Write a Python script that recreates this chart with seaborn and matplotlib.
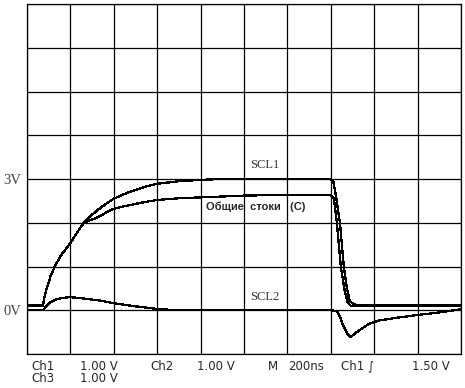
import matplotlib
matplotlib.use("Agg")
import pandas as pd
import matplotlib.pyplot as plt
import seaborn as sns

# oscilloscope traces: time in divisions (200 ns/div), voltage in volts (1 V/div)
t_scl1 = [0, 0.37, 0.40, 0.46, 0.55, 0.65, 0.8, 0.99, 1.15, 1.31, 1.45, 1.6, 1.8,
          2.0, 2.25, 2.5, 2.75, 3.0, 3.5, 4.0, 4.5, 5.0, 6.0, 7.0, 7.06, 7.12,
          7.21, 7.30, 7.37, 7.44, 7.56, 8.0, 9.0, 9.98]
v_scl1 = [0.11, 0.11, 0.3, 0.52, 0.8, 1.02, 1.28, 1.52, 1.77, 2.0, 2.14, 2.27, 2.42,
          2.55, 2.66, 2.75, 2.83, 2.89, 2.95, 2.98, 3.0, 3.0, 3.0, 3.0, 2.93, 2.6,
          2.0, 1.0, 0.5, 0.2, 0.125, 0.125, 0.125, 0.125]

t_drain = [0, 0.37, 0.40, 0.46, 0.55, 0.65, 0.8, 0.99, 1.15, 1.31, 1.45, 1.6, 1.8,
           2.0, 2.25, 2.5, 2.75, 3.0, 3.5, 4.0, 5.0, 6.0, 7.0, 7.07, 7.14, 7.23,
           7.32, 7.39, 7.46, 7.58, 8.0, 9.0, 9.98]
v_drain = [0.11, 0.11, 0.3, 0.52, 0.8, 1.02, 1.28, 1.52, 1.77, 2.0, 2.06, 2.11, 2.22,
           2.32, 2.38, 2.43, 2.48, 2.52, 2.56, 2.58, 2.62, 2.64, 2.64, 2.55, 2.0,
           1.0, 0.45, 0.18, 0.1, 0.1, 0.1, 0.1, 0.1]

t_scl2 = [0, 0.37, 0.45, 0.53, 0.65, 0.8, 0.99, 1.3, 1.7, 2.0, 2.5, 3.0, 3.3, 4.0,
          5.0, 6.0, 7.0, 7.14, 7.21, 7.28, 7.37, 7.44, 7.51, 7.6, 7.67, 7.9, 8.13,
          8.6, 8.99, 9.5, 9.98]
v_scl2 = [0, 0, 0.1, 0.18, 0.24, 0.28, 0.3, 0.27, 0.22, 0.16, 0.09, 0.03, 0.01, 0,
          0, 0, 0, -0.02, -0.15, -0.34, -0.52, -0.61, -0.57, -0.5, -0.45, -0.3, -0.23,
          -0.16, -0.11, -0.05, 0.02]

y_labels = {0: "0V", 3: "3V"}
trace_labels = [("SCL1", 5.14, 3.32), ("SCL2", 5.14, 0.3)]
drain_label = "Общие  стоки   (С)"

status_line1 = [("Ch1", 31), ("1.00 V", 80), ("Ch2", 150), ("1.00 V", 197),
                ("M", 268), ("200ns", 288), ("Ch1 \u222b", 341), ("1.50 V", 412)]
status_line2 = [("Ch3", 31), ("1.00 V", 80)]

sns.set_style("white")
fig = plt.figure(figsize=(4.65, 3.88), dpi=100)
ax = fig.add_axes([27 / 465, 1 - 354 / 388, 434 / 465, 350 / 388])

for t, v in [(t_scl1, v_scl1), (t_drain, v_drain), (t_scl2, v_scl2)]:
    df = pd.DataFrame({"t": t, "v": v})
    sns.lineplot(data=df, x="t", y="v", ax=ax, color="black", lw=0.9,
                 estimator=None, antialiased=False)

ax.set_xlim(0, 10)
ax.set_ylim(-1, 7)
ax.set_xticks(range(0, 11))
ax.set_yticks(range(-1, 8))
ax.set_xticklabels([])
ax.set_yticklabels([y_labels.get(y, "") for y in range(-1, 8)],
                   family="Liberation Serif", fontsize=10.5, color="#444444")
ax.tick_params(length=0, pad=4)
ax.grid(True, color="black", lw=0.9)
ax.set_axisbelow(True)
for s in ax.spines.values():
    s.set_color("black")
    s.set_linewidth(0.9)
ax.set_xlabel("")
ax.set_ylabel("")

for txt, x, y in trace_labels:
    ax.text(x, y, txt, family="Liberation Serif", fontsize=9, color="#333333",
            ha="left", va="center")
ax.text(4.12, 2.36, drain_label, family="Liberation Sans", fontsize=8,
        fontweight="bold", ha="left", va="center")

for txt, px in status_line1:
    fig.text(px / 465, 1 - 366 / 388, txt, family="DejaVu Sans", fontsize=8.5,
             ha="left", va="center")
for txt, px in status_line2:
    fig.text(px / 465, 1 - 379 / 388, txt, family="DejaVu Sans", fontsize=8.5,
             ha="left", va="center")

fig.savefig("out.png", dpi=100, facecolor="white")
